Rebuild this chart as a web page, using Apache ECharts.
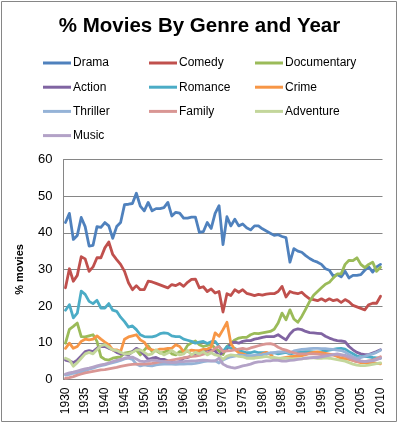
<!DOCTYPE html>
<html>
<head>
<meta charset="utf-8">
<script src="https://cdn.jsdelivr.net/npm/echarts@6/dist/echarts.min.js"></script>
<style>html,body{margin:0;padding:0;background:#fff;}#c{width:399px;height:426px;}</style>
</head>
<body>
<div id="c"></div>
<script>
var years = ['1930','1931','1932','1933','1934','1935','1936','1937','1938','1939',
'1940','1941','1942','1943','1944','1945','1946','1947','1948','1949',
'1950','1951','1952','1953','1954','1955','1956','1957','1958','1959',
'1960','1961','1962','1963','1964','1965','1966','1967','1968','1969',
'1970','1971','1972','1973','1974','1975','1976','1977','1978','1979',
'1980','1981','1982','1983','1984','1985','1986','1987','1988','1989',
'1990','1991','1992','1993','1994','1995','1996','1997','1998','1999',
'2000','2001','2002','2003','2004','2005','2006','2007','2008','2009','2010'];

var drama = [42.8,45.3,38.2,39.3,44.2,41.7,36.4,36.6,41.7,41.5,
42.8,41.9,38.5,41.7,42.8,47.7,47.8,48.0,50.8,47.3,
46.0,48.3,46.0,46.6,46.6,46.9,48.3,44.6,45.6,45.4,
44.0,44.0,44.3,44.3,40.1,40.3,42.8,41.2,45.3,47.4,
36.8,44.4,41.9,43.7,41.9,42.4,41.4,40.8,41.9,41.9,
41.1,40.5,39.9,39.3,39.5,39.0,38.7,32.0,35.7,35.0,
34.7,33.8,33.0,32.4,32.0,31.4,30.2,29.8,28.2,28.6,
28.0,29.5,27.7,28.4,28.4,28.6,29.8,30.7,29.3,30.7,31.4];

var comedy = [25.0,30.2,26.8,28.4,33.5,32.9,29.5,30.7,33.2,33.2,
35.9,37.5,34.1,32.7,31.4,29.5,26.4,24.5,25.6,24.5,
24.5,26.8,26.6,26.2,25.8,25.4,25.0,25.9,25.6,26.2,
25.4,26.5,27.3,27.4,25.0,25.3,24.0,24.7,23.6,24.0,
18.4,23.4,22.9,24.5,23.8,24.5,23.5,23.2,22.9,23.2,
23.0,23.3,23.4,23.4,24.0,25.4,22.5,24.0,23.6,23.4,
23.8,22.8,22.0,21.8,21.5,22.0,21.4,22.0,21.5,21.8,
21.0,21.8,21.2,20.2,19.8,19.4,19.0,20.4,20.8,20.8,22.7];

var documentary = [9.9,13.7,14.5,15.4,11.7,11.6,11.9,12.2,10.4,6.2,
5.5,5.3,5.8,6.0,6.2,7.2,7.4,7.6,8.0,6.7,
8.0,9.2,7.6,7.9,7.2,7.4,8.0,7.0,6.7,7.6,
7.5,9.3,10.0,10.5,9.5,9.0,9.3,9.6,8.5,7.8,
6.8,9.0,9.9,10.8,11.3,11.5,11.5,12.2,12.6,12.5,
12.7,12.9,13.1,13.7,15.4,18.1,16.3,19.0,16.5,15.6,
17.2,19.2,21.3,23.0,24.0,25.0,26.0,26.5,27.7,28.8,
28.8,31.4,32.5,32.4,33.2,31.4,30.5,31.4,32.0,29.5,30.6];

var action = [5.3,5.0,4.6,5.3,6.4,7.6,7.9,7.6,8.5,9.0,
9.0,8.5,8.1,7.4,7.0,7.0,6.7,7.6,8.5,7.9,
6.7,5.5,5.8,6.0,5.5,5.5,5.1,4.9,4.6,4.9,
5.8,6.0,6.4,7.0,7.5,7.8,8.0,8.0,7.8,6.5,
7.5,8.3,9.9,10.2,9.9,10.4,10.6,10.6,11.0,11.2,
11.5,11.7,11.7,11.7,12.2,11.5,10.8,12.4,13.5,13.8,
13.6,13.1,12.8,12.7,12.6,12.5,11.8,11.3,10.9,10.6,
10.5,10.3,9.0,8.1,7.4,7.0,6.8,6.8,7.2,7.6,8.1];

var romance = [18.9,20.4,16.8,18.1,24.1,23.2,21.3,20.7,21.6,19.5,
19.5,20.7,18.9,18.6,17.0,15.8,14.3,14.6,13.6,12.2,
11.7,11.6,11.6,11.9,12.5,12.7,12.6,11.9,11.7,11.7,
11.0,10.7,10.4,9.9,10.2,10.4,9.8,10.3,10.4,9.0,
7.6,9.0,8.5,8.5,7.8,7.6,7.3,7.3,7.6,7.3,
7.3,7.3,7.0,7.3,7.0,7.2,7.4,7.0,7.2,7.4,
7.5,7.6,7.6,7.5,7.4,7.6,7.8,8.0,8.2,8.4,
8.5,8.3,7.6,7.0,6.4,6.2,6.3,6.2,6.0,5.9,5.8];

var crime = [8.5,9.9,8.5,9.0,10.4,11.0,10.8,11.0,11.9,11.0,
10.2,9.5,8.1,8.1,7.6,11.0,11.6,11.9,12.2,10.8,
10.2,8.5,8.1,7.9,8.3,8.3,8.5,8.5,9.5,9.0,
7.6,7.6,8.0,7.9,7.9,8.2,8.3,8.8,12.7,11.8,
13.6,15.6,9.8,8.2,7.3,7.0,6.6,6.3,6.4,6.6,
7.0,7.4,6.9,5.8,5.6,5.8,6.0,6.2,6.3,6.4,
6.5,6.8,7.2,7.4,7.5,7.3,7.1,6.9,6.7,6.3,
5.8,5.7,5.5,5.2,4.9,4.6,4.6,4.7,4.6,4.4,4.3];

var thriller = [1.2,1.4,1.7,1.9,2.1,2.4,2.8,3.1,3.5,3.8,
4.0,4.3,4.6,4.9,5.2,5.6,5.8,5.5,4.2,3.7,
4.0,3.8,3.7,4.0,4.1,4.2,4.2,4.2,4.1,4.2,
4.2,4.3,4.3,4.4,4.6,4.9,5.0,5.0,5.1,4.5,
5.3,5.8,6.2,6.4,6.7,6.6,6.5,6.5,6.6,6.7,
6.8,7.0,7.3,7.3,7.5,7.5,7.6,7.2,7.8,8.0,
8.2,8.3,8.4,8.5,8.5,8.4,8.4,8.3,8.2,8.0,
7.9,7.5,6.8,6.2,5.8,6.0,6.3,6.7,7.0,7.4,8.0];

var family = [0.3,0.5,0.8,1.2,1.5,1.8,2.0,2.2,2.4,2.6,
2.7,2.9,3.1,3.3,3.6,3.8,4.0,4.1,4.2,4.2,
4.2,4.3,4.4,4.6,4.8,4.9,5.1,5.3,5.5,5.7,
5.9,6.1,6.3,6.4,6.6,6.9,7.2,7.6,8.5,9.0,
7.6,7.8,7.9,8.1,8.3,8.5,8.2,8.6,8.9,9.2,
9.5,9.7,9.8,9.5,8.8,8.3,8.0,7.6,7.3,7.0,
7.0,7.0,7.0,7.0,6.9,6.8,6.7,6.7,6.7,6.7,
6.6,6.4,5.8,5.2,4.9,4.9,4.9,5.1,5.3,5.7,6.2];

var adventure = [5.8,5.3,3.6,4.6,5.8,7.0,7.4,7.0,8.1,9.2,
9.5,8.8,8.1,7.9,7.4,7.0,7.0,7.4,8.1,8.1,
7.4,6.7,7.0,8.1,7.4,6.7,7.2,7.9,7.2,6.7,
7.0,7.9,6.7,7.4,7.0,7.6,6.7,7.3,6.7,6.5,
5.5,6.4,6.7,6.6,6.3,6.2,5.8,5.8,5.8,6.0,
6.1,6.3,6.0,6.0,5.8,5.8,5.8,5.7,5.6,5.6,
5.6,5.8,5.9,5.9,5.8,5.8,5.9,5.8,5.6,5.4,
5.2,5.0,4.6,4.2,3.9,3.8,3.8,3.9,4.1,4.3,4.5];

var music = [1.5,1.8,2.0,2.3,2.6,2.9,3.1,3.4,3.7,4.0,
4.2,4.5,4.9,5.2,5.5,5.8,6.0,6.1,5.6,5.0,
4.9,5.1,5.3,5.2,5.0,4.9,4.7,4.6,4.7,4.9,
4.9,5.0,5.1,5.1,5.2,5.3,5.2,5.1,5.1,5.8,
4.2,3.6,3.3,3.1,3.4,3.7,3.9,4.2,4.6,4.8,
4.9,5.1,5.1,5.3,5.2,5.0,5.0,5.2,5.3,5.5,
5.6,5.8,5.9,6.0,6.0,6.2,6.4,6.6,6.8,7.0,
6.8,6.6,6.2,5.8,5.4,5.1,4.9,5.0,5.1,5.4,5.8];

var names = ['Drama','Comedy','Documentary','Action','Romance','Crime','Thriller','Family','Adventure','Music'];
var values = [drama, comedy, documentary, action, romance, crime, thriller, family, adventure, music];
var colors = ['#4F81BD','#C0504D','#9BBB59','#8064A2','#4BACC6','#F79646','#95B3D7','#D99694','#C3D69B','#B3A2C7'];
var yTicks = [0, 10, 20, 30, 40, 50, 60];

var FONT = 'Liberation Sans, Arial, sans-serif';
var chart = echarts.init(document.getElementById('c'), null, {renderer: 'canvas'});

function legendCol(left, data) {
  return {
    orient: 'vertical', left: left, top: 56, padding: 0,
    itemWidth: 28, itemHeight: 14, itemGap: 10.2,
    icon: 'path://M0,0 L28,0 L28,3 L0,3 Z',
    selectedMode: false, data: data,
    textStyle: {fontSize: 12, color: '#000', fontFamily: FONT, padding: [0, 0, 0, -3], lineHeight: 14}
  };
}

var series = names.map(function (n, i) {
  return {
    name: n, type: 'line', data: values[i], showSymbol: false, symbol: 'none',
    color: colors[i],
    lineStyle: {width: 2.8, color: colors[i], cap: 'round', join: 'round'},
    emphasis: {disabled: true}
  };
});

chart.setOption({
  animation: false,
  backgroundColor: '#fff',
  title: {
    text: '% Movies By Genre and Year', left: 'center', top: 11,
    textStyle: {fontSize: 20.5, fontWeight: 'bold', color: '#000', fontFamily: FONT}
  },
  legend: [
    legendCol(43, ['Drama', 'Action', 'Thriller', 'Music']),
    legendCol(149, ['Comedy', 'Romance', 'Family']),
    legendCol(255, ['Documentary', 'Crime', 'Adventure'])
  ],
  grid: {left: 63.5, right: 16.5, top: 159.5, bottom: 46.5, containLabel: false},
  xAxis: {
    type: 'category', data: years, boundaryGap: true,
    axisLine: {show: true, lineStyle: {color: '#868686', width: 1}},
    axisTick: {show: false},
    axisLabel: {interval: 4, rotate: 90, fontSize: 12, color: '#000', fontFamily: FONT, margin: 8}
  },
  yAxis: {
    type: 'value', min: yTicks[0], max: yTicks[yTicks.length - 1], interval: 10,
    name: '% movies', nameLocation: 'middle', nameGap: 38, nameRotate: 90,
    nameTextStyle: {fontSize: 11, fontWeight: 'bold', color: '#000', fontFamily: FONT},
    axisLine: {show: true, lineStyle: {color: '#868686', width: 1}},
    axisTick: {show: false},
    splitLine: {show: true, lineStyle: {color: '#868686', width: 1}},
    axisLabel: {fontSize: 13, color: '#000', fontFamily: FONT, margin: 11}
  },
  graphic: [{
    type: 'rect', shape: {x: 1.5, y: 1.5, width: 395, height: 420},
    style: {fill: 'none', stroke: '#868686', lineWidth: 1}, silent: true, z: 100
  }],
  series: series
});
</script>
</body>
</html>
